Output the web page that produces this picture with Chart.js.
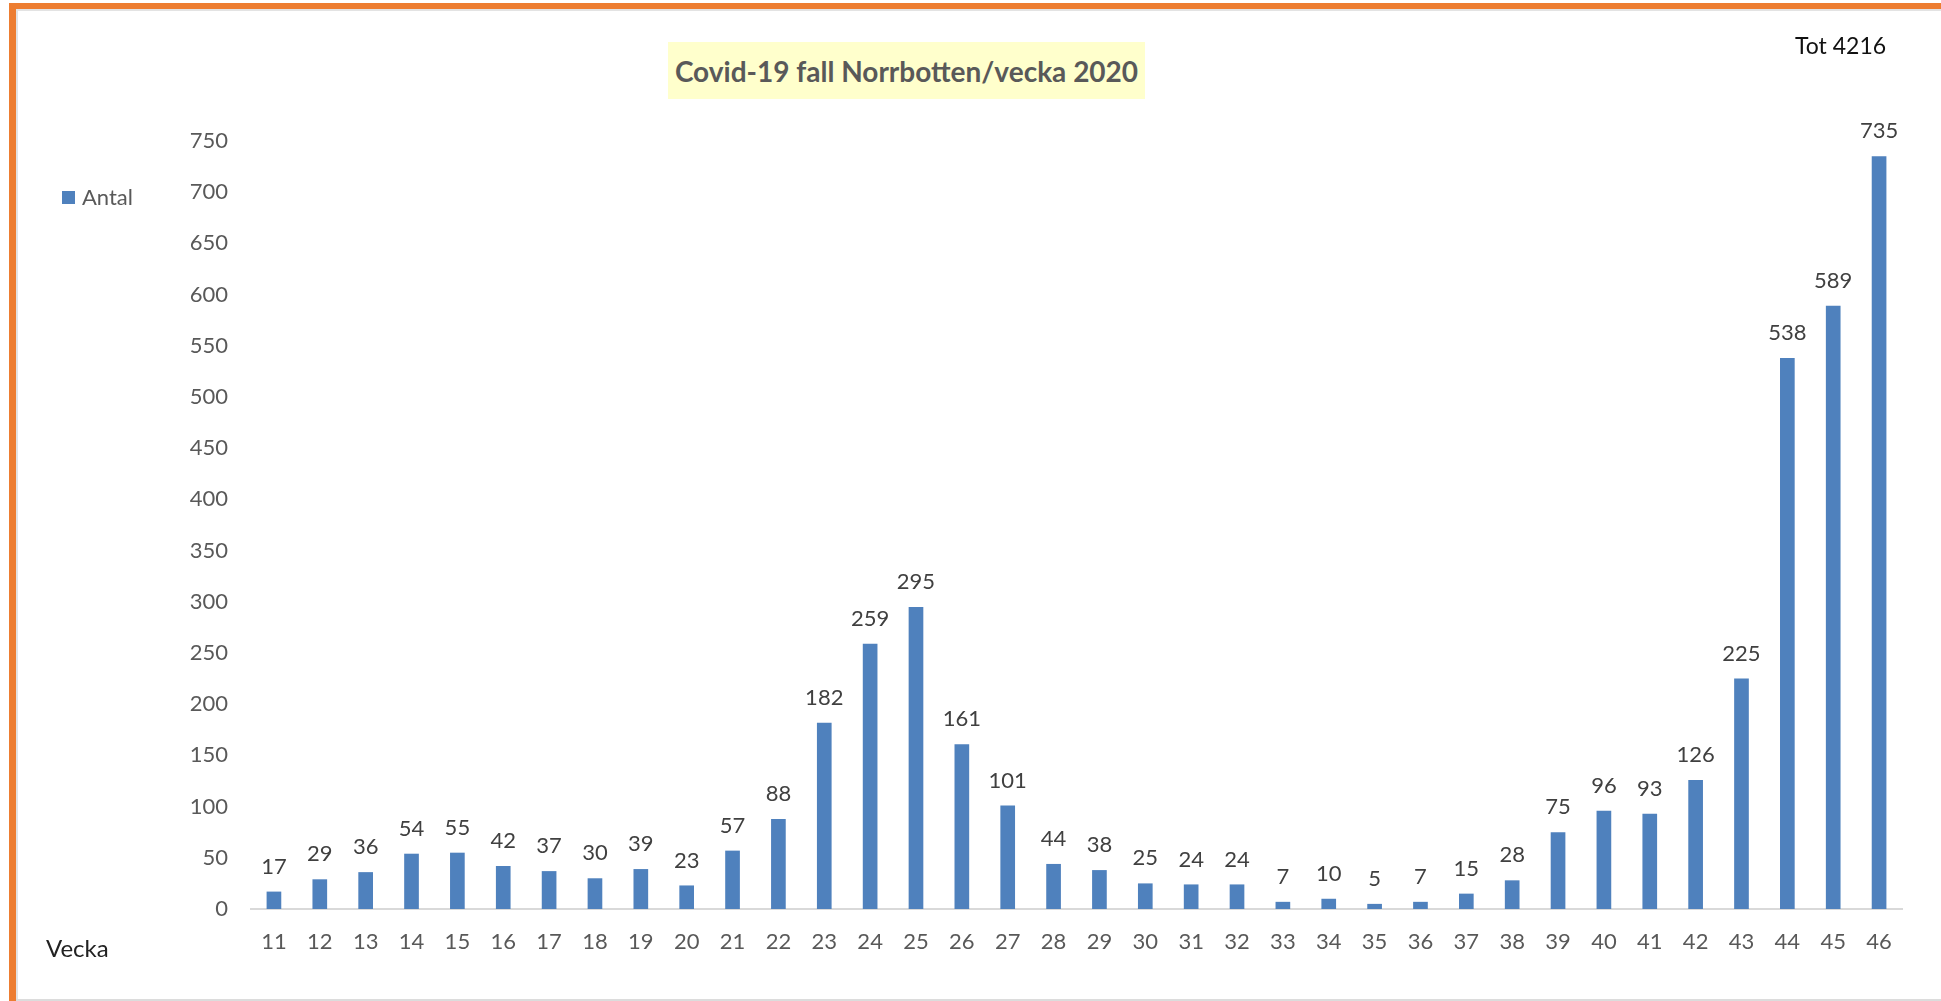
<!DOCTYPE html>
<html>
<head>
<meta charset="utf-8">
<script src="https://cdn.jsdelivr.net/npm/chart.js@4"></script>
<style>
  html, body { margin: 0; padding: 0; background: #fff; }
  #wrap { position: relative; width: 1941px; height: 1001px; overflow: hidden; background: #fff; }
  #c { position: absolute; left: 0; top: 0; }
  .frameTop { position: absolute; left: 9px; top: 3px; width: 1932px; height: 6px; background: #ED7D31; }
  .frameLeft { position: absolute; left: 9px; top: 3px; width: 7px; height: 998px; background: #ED7D31; }
  .innerTop { position: absolute; left: 16px; top: 9px; width: 1925px; height: 2px; background: #e3e3e3; }
  .innerLeft { position: absolute; left: 16px; top: 9px; width: 2px; height: 992px; background: #e3e3e3; }
  .innerBottom { position: absolute; left: 16px; top: 999px; width: 1925px; height: 2px; background: #dcdcdc; }
  .title { position: absolute; left: 668px; top: 42px; width: 477px; height: 57px; background: #FFFFCC;
           font-family: "Lato", sans-serif; font-weight: bold; font-size: 28px; color: #595959;
           display: flex; align-items: center; justify-content: center; white-space: nowrap; }
  .tot { position: absolute; left: 1795px; top: 30px; font-family: "Lato", sans-serif; font-size: 23px; color: #111; white-space: nowrap; line-height: 30px; }
  .vecka { position: absolute; left: 46px; top: 933px; font-family: "Lato", sans-serif; font-size: 24px; color: #222; line-height: 30px; }
  .legend { position: absolute; left: 62px; top: 182px; font-family: "Lato", sans-serif; font-size: 22px; color: #595959; line-height: 30px; white-space: nowrap; }
  .legend .sw { display: inline-block; width: 13px; height: 13px; background: #4F81BD; margin-right: 7px; vertical-align: 1px; }
</style>
</head>
<body>
<div id="wrap">
  <canvas id="c" width="1941" height="1001"></canvas>
  <div class="frameTop"></div>
  <div class="frameLeft"></div>
  <div class="innerTop"></div>
  <div class="innerLeft"></div>
  <div class="innerBottom"></div>
  <div class="title">Covid-19 fall Norrbotten/vecka 2020</div>
  <div class="tot">Tot 4216</div>
  <div class="vecka">Vecka</div>
  <div class="legend"><span class="sw"></span>Antal</div>
</div>
<script>
const weeks = ["11","12","13","14","15","16","17","18","19","20","21","22","23","24","25","26","27","28","29","30","31","32","33","34","35","36","37","38","39","40","41","42","43","44","45","46"];
const antal = [17,29,36,54,55,42,37,30,39,23,57,88,182,259,295,161,101,44,38,25,24,24,7,10,5,7,15,28,75,96,93,126,225,538,589,735];
const yTicksMax = 750;
const yTickStep = 50;

const valueLabels = {
  id: 'valueLabels',
  afterDatasetsDraw(chart) {
    const ctx = chart.ctx;
    const meta = chart.getDatasetMeta(0);
    ctx.save();
    ctx.font = '22px Lato, sans-serif';
    ctx.fillStyle = '#404040';
    ctx.textAlign = 'center';
    ctx.textBaseline = 'middle';
    meta.data.forEach((bar, i) => {
      ctx.fillText(String(chart.data.datasets[0].data[i]), bar.x, bar.y - 25);
    });
    ctx.restore();
  }
};

new Chart(document.getElementById('c'), {
  type: 'bar',
  data: {
    labels: weeks,
    datasets: [{
      label: 'Antal',
      data: antal,
      backgroundColor: '#4F81BD',
      borderWidth: 0,
      barPercentage: 0.32,
      categoryPercentage: 1.0
    }]
  },
  options: {
    responsive: false,
    animation: false,
    devicePixelRatio: 1,
    layout: { padding: { left: 140, top: 141, right: 39, bottom: 32 } },
    plugins: { legend: { display: false }, title: { display: false }, tooltip: { enabled: false } },
    scales: {
      x: {
        grid: { display: false },
        border: { display: true, color: '#d9d9d9', width: 2 },
        ticks: { color: '#595959', font: { family: 'Lato, sans-serif', size: 22 }, padding: 12, maxRotation: 0, autoSkip: false },
        afterFit(scale) { scale.height = 60; }
      },
      y: {
        min: 0,
        max: yTicksMax,
        grid: { display: false, drawTicks: false },
        border: { display: false },
        ticks: { stepSize: yTickStep, color: '#595959', font: { family: 'Lato, sans-serif', size: 22 }, padding: 23 },
        afterFit(scale) { scale.width = 111; }
      }
    }
  },
  plugins: [valueLabels]
});
</script>
</body>
</html>
